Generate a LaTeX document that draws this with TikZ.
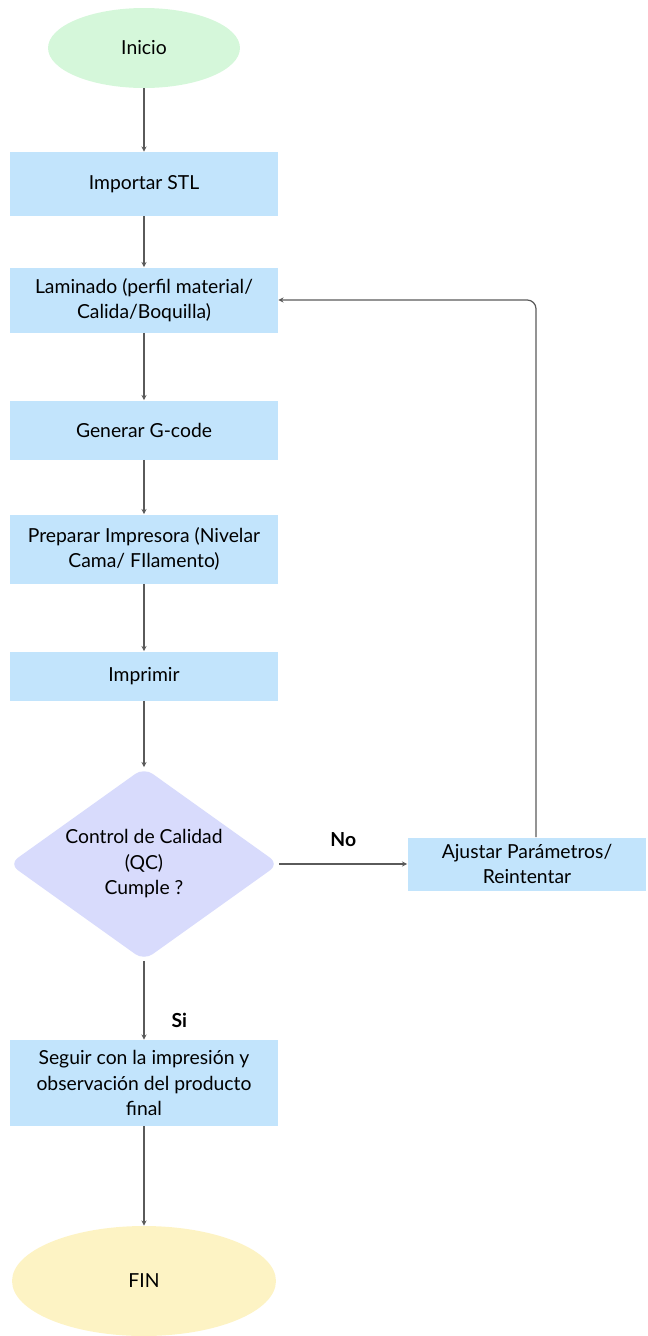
\documentclass[tikz,border=0pt]{standalone}
\usepackage{fontspec}
\setmainfont{Lato}
\usepackage{xcolor}
\usepackage{tikz}
\usetikzlibrary{shapes.geometric,arrows.meta,positioning,calc}

\definecolor{inicioGreen}{HTML}{D5F7DA}
\definecolor{pasoBlue}{HTML}{C2E4FC}
\definecolor{qcLilac}{HTML}{D8DBFC}
\definecolor{finYellow}{HTML}{FDF3C4}
\definecolor{lineGray}{HTML}{5A5A5A}

\begin{document}
\begin{tikzpicture}[
    x=0.02cm, y=-0.02cm,
    font=\fontsize{11}{14.5}\selectfont,
    terminal/.style={ellipse, fill=#1, inner sep=0pt},
    paso/.style={rectangle, fill=pasoBlue, minimum width=5.36cm, align=center, inner sep=2pt},
    decision/.style={diamond, fill=qcLilac, rounded corners=6pt, aspect=1.4, minimum width=5.4cm, minimum height=3.86cm, inner sep=0pt, align=center},
    flecha/.style={-{Stealth[length=3pt,width=3pt]}, draw=lineGray, line width=0.7pt},
    rotulo/.style={font=\fontsize{11}{13}\selectfont\bfseries}
]
% Marco
\useasboundingbox (0,0) rectangle (647,1336);

% Inicio y pasos
\node[terminal=inicioGreen, minimum width=3.84cm, minimum height=1.6cm] (inicio) at (144,48) {Inicio};
\node[paso, minimum height=1.28cm] (importar) at (144,184) {Importar STL};
\node[paso, minimum height=1.3cm] (laminado) at (144,300) {Laminado (perfil material/\\Calida/Boquilla)};
\node[paso, minimum height=1.18cm] (gcode) at (144,430) {Generar G-code};
\node[paso, minimum height=1.38cm] (preparar) at (144,549) {Preparar Impresora (Nivelar\\Cama/ FIlamento)};
\node[paso, minimum height=0.98cm] (imprimir) at (144,676) {Imprimir};

% Decision
\node[decision] (qc) at (144,864) {Control de Calidad\\(QC)\\Cumple ?};
\node[paso, minimum width=4.78cm, minimum height=1.06cm] (ajustar) at (527,864) {Ajustar Parámetros/\\Reintentar};

% Final
\node[paso, minimum height=1.72cm] (seguir) at (144,1083) {Seguir con la impresión y\\observación del producto\\final};
\node[terminal=finYellow, minimum width=5.28cm, minimum height=2.2cm] (fin) at (144,1281) {FIN};

% Flechas
\draw[flecha] (inicio) -- (importar);
\draw[flecha] (importar) -- (laminado);
\draw[flecha] (laminado) -- (gcode);
\draw[flecha] (gcode) -- (preparar);
\draw[flecha] (preparar) -- (imprimir);
\draw[flecha] (imprimir) -- (qc);
\draw[flecha] (qc) -- node[rotulo, above=6pt] {No} (ajustar);
\draw[flecha] (qc) -- node[rotulo, pos=0.75, right=12pt] {Si} (seguir);
\draw[flecha] (seguir) -- (fin);

% Reintento hacia el laminado
\draw[flecha, rounded corners=5pt] (ajustar.north -| 536,0) |- (laminado.east);
\end{tikzpicture}
\end{document}
